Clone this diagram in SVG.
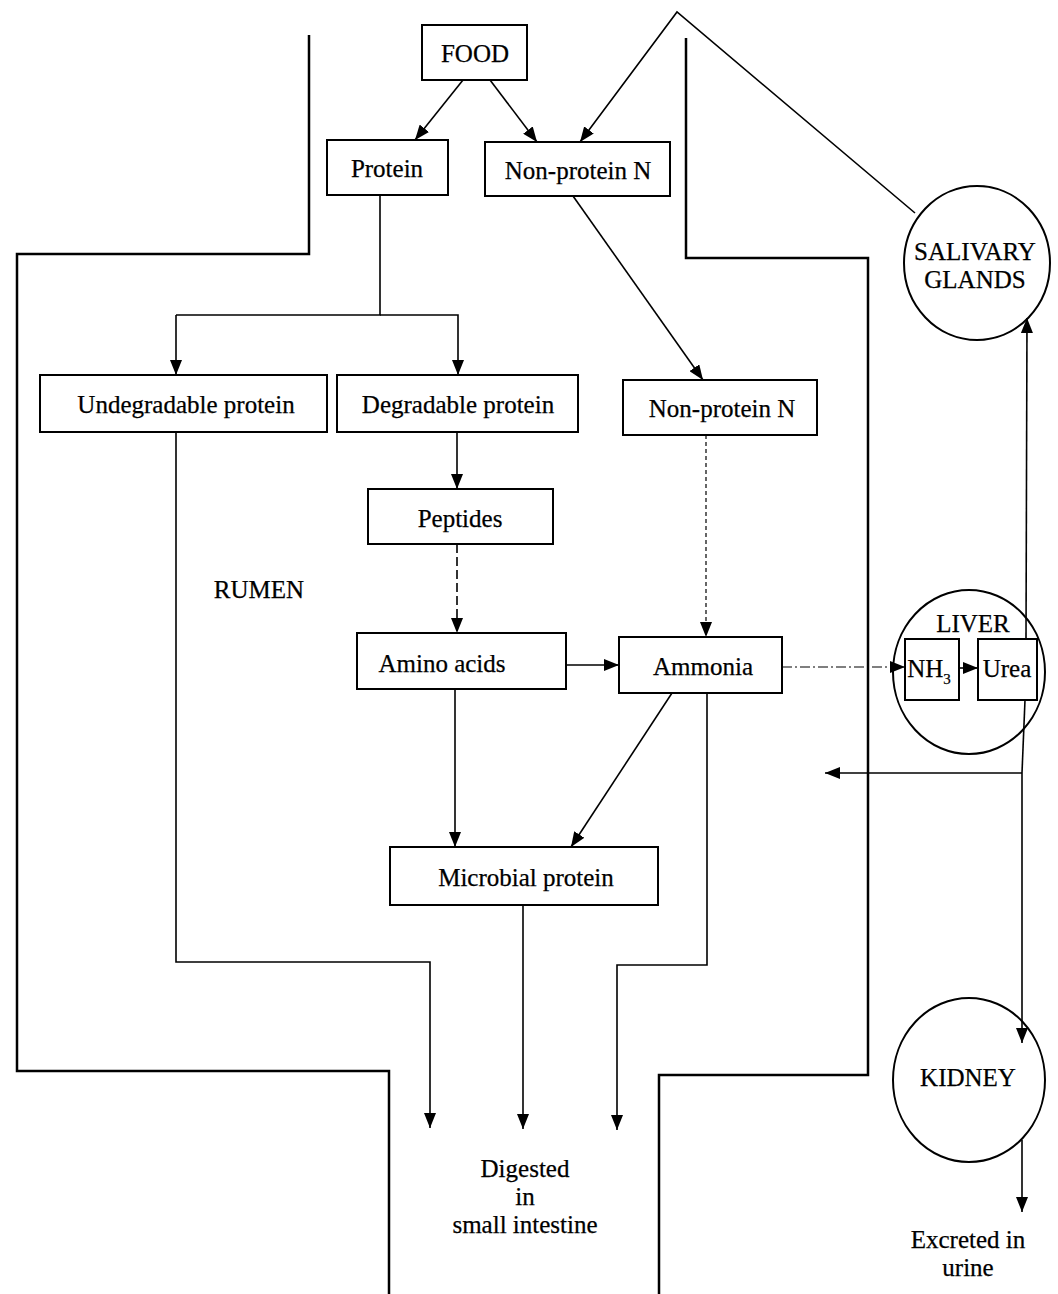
<svg xmlns="http://www.w3.org/2000/svg" width="1058" height="1294" viewBox="0 0 1058 1294">
<defs>
<marker id="ah" markerUnits="userSpaceOnUse" markerWidth="16" markerHeight="12" refX="15" refY="6" orient="auto">
<path d="M0,0 L15,6 L0,12 Z" fill="#000"/>
</marker>
<style>
.box{fill:#fff;stroke:#000;stroke-width:2}
.wall{fill:none;stroke:#000;stroke-width:2.5}
.ln{fill:none;stroke:#000;stroke-width:1.6}
.arr{fill:none;stroke:#000;stroke-width:1.6;marker-end:url(#ah)}
.dash{stroke-dasharray:9 4}
.dot{stroke-dasharray:4 3;stroke-width:1.2}
.dd{stroke-dasharray:10 3 2 3;stroke-width:1.2}
.org{fill:#fff;stroke:#000;stroke-width:2}
text{font-family:"Liberation Serif","Times New Roman",serif;font-size:25px;fill:#000;text-anchor:middle;stroke:#000;stroke-width:0.25}
</style>
</defs>
<rect width="1058" height="1294" fill="#fff"/>

<g id="rumen-wall">
<path class="wall" d="M309,35 V254 H17 V1071 H389 V1294"/>
<path class="wall" d="M686,38 V258 H868 V1075 H659 V1294"/>
</g>

<g id="food"><rect class="box" x="422" y="25" width="105" height="55"/><text x="475" y="62">FOOD</text></g>
<g id="protein"><rect class="box" x="327" y="140" width="121" height="55"/><text x="387" y="177">Protein</text></g>
<g id="npn1"><rect class="box" x="485" y="142" width="185" height="54"/><text x="578" y="179">Non-protein N</text></g>
<g id="undegradable"><rect class="box" x="40" y="375" width="287" height="57"/><text x="186" y="413">Undegradable protein</text></g>
<g id="degradable"><rect class="box" x="337" y="375" width="241" height="57"/><text x="458" y="413">Degradable protein</text></g>
<g id="npn2"><rect class="box" x="623" y="380" width="194" height="55"/><text x="722" y="417">Non-protein N</text></g>
<g id="peptides"><rect class="box" x="368" y="489" width="185" height="55"/><text x="460" y="527">Peptides</text></g>
<g id="rumen-label"><text x="259" y="598">RUMEN</text></g>
<g id="aminoacids"><rect class="box" x="357" y="633" width="209" height="56"/><text x="442" y="672">Amino acids</text></g>
<g id="ammonia"><rect class="box" x="619" y="637" width="163" height="56"/><text x="703" y="675">Ammonia</text></g>
<g id="microbial"><rect class="box" x="390" y="847" width="268" height="58"/><text x="526" y="886">Microbial protein</text></g>
<g id="intestine"><text x="525" y="1177">Digested</text><text x="525" y="1205">in</text><text x="525" y="1233">small intestine</text></g>

<g id="salivary"><ellipse class="org" cx="977" cy="263" rx="73" ry="77"/><text x="975" y="260">SALIVARY</text><text x="975" y="288">GLANDS</text></g>
<g id="liver"><ellipse class="org" cx="969" cy="672" rx="76" ry="82"/><text x="973" y="632">LIVER</text>
<rect class="box" x="905" y="639" width="54" height="61"/><text x="929" y="677" font-size="23">NH<tspan font-size="15" dy="7">3</tspan></text>
<rect class="box" x="978" y="639" width="59" height="61"/><text x="1007" y="677" font-size="24">Urea</text></g>
<g id="kidney"><ellipse class="org" cx="969" cy="1080" rx="76" ry="82"/><text x="968" y="1086">KIDNEY</text></g>
<g id="excreted"><text x="968" y="1248">Excreted in</text><text x="968" y="1276">urine</text></g>

<g id="connectors">
<line class="arr" x1="463" y1="80" x2="415" y2="140"/>
<line class="arr" x1="490" y1="80" x2="537" y2="142"/>
<polyline class="arr" points="915,213 677,12 580,142"/>
<path class="ln" d="M380,195 V315 H176"/>
<path class="arr" d="M176,315 V375"/>
<path class="arr" d="M380,315 H458 V375"/>
<line class="arr" x1="573" y1="196" x2="703" y2="380"/>
<line class="arr" x1="457" y1="432" x2="457" y2="489"/>
<line class="arr dash" x1="457" y1="544" x2="457" y2="633"/>
<line class="arr dot" x1="706" y1="435" x2="706" y2="637"/>
<line class="arr" x1="566" y1="665" x2="619" y2="665"/>
<line class="arr dd" x1="782" y1="667" x2="905" y2="667"/>
<line class="arr" x1="959" y1="668" x2="978" y2="668"/>
<line class="arr" x1="455" y1="689" x2="455" y2="847"/>
<line class="arr" x1="672" y1="693" x2="571" y2="847"/>
<path class="arr" d="M176,432 V962 H430 V1128"/>
<line class="arr" x1="523" y1="905" x2="523" y2="1129"/>
<path class="arr" d="M707,693 V965 H617 V1130"/>
<line class="arr" x1="1026" y1="639" x2="1027" y2="318"/>
<line class="ln" x1="1025" y1="700" x2="1022" y2="773"/>
<line class="arr" x1="1022" y1="773" x2="825" y2="773"/>
<line class="arr" x1="1022" y1="773" x2="1022" y2="1043"/>
<line class="arr" x1="1022" y1="1140" x2="1022" y2="1212"/>
</g>
</svg>
